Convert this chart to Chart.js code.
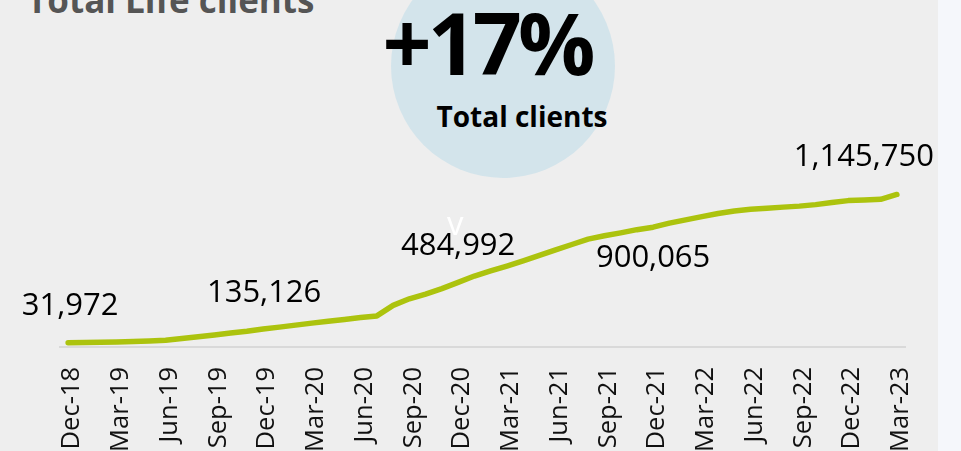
<!DOCTYPE html>
<html lang="en">
<head>
  <meta charset="UTF-8"/>
  <title>Total Life clients</title>
  <script src="https://cdn.jsdelivr.net/npm/chart.js"></script>
  <style>
    html, body { margin: 0; padding: 0; }
    body {
      width: 961px;
      height: 451px;
      overflow: hidden;
      position: relative;
      background: #eeeeee;
      font-family: "Open Sans", sans-serif;
    }
    .strip {
      position: absolute;
      left: 938px; top: 0;
      width: 23px; height: 451px;
      background: #f5f7fb;
    }
    .title {
      position: absolute;
      left: 27px; top: -24px;
      font-size: 35px;
      font-weight: bold;
      color: #555;
      white-space: nowrap;
    }
    .bubble {
      position: absolute;
      left: 391px; top: -46px;
      width: 224px; height: 224px;
      border-radius: 50%;
      background: #d3e4eb;
    }
    .big {
      position: absolute;
      left: 287px; top: -17px;
      width: 400px;
      text-align: center;
      font-size: 86px;
      font-weight: bold;
      letter-spacing: -4px;
      color: #000;
    }
    .sub {
      position: absolute;
      left: 322px; top: 97px;
      width: 400px;
      text-align: center;
      font-size: 28px;
      font-weight: bold;
      color: #000;
    }
    .mark {
      position: absolute;
      left: 447px; top: 200px;
      font-size: 33px;
      color: #fff;
    }
    .chart-box {
      position: absolute;
      left: 0; top: 0;
      width: 961px; height: 451px;
    }
  </style>
</head>
<body>
  <div class="strip"></div>
  <div class="title">Total Life clients</div>
  <div class="bubble"></div>
  <div class="big">+17%</div>
  <div class="sub">Total clients</div>
  <div class="chart-box"><canvas id="chart"></canvas></div>
  <div class="mark">v</div>

  <script>
    const months = [
      "Dec-18",
      "Jan-19", "Feb-19", "Mar-19", "Apr-19", "May-19", "Jun-19",
      "Jul-19", "Aug-19", "Sep-19", "Oct-19", "Nov-19", "Dec-19",
      "Jan-20", "Feb-20", "Mar-20", "Apr-20", "May-20", "Jun-20",
      "Jul-20", "Aug-20", "Sep-20", "Oct-20", "Nov-20", "Dec-20",
      "Jan-21", "Feb-21", "Mar-21", "Apr-21", "May-21", "Jun-21",
      "Jul-21", "Aug-21", "Sep-21", "Oct-21", "Nov-21", "Dec-21",
      "Jan-22", "Feb-22", "Mar-22", "Apr-22", "May-22", "Jun-22",
      "Jul-22", "Aug-22", "Sep-22", "Oct-22", "Nov-22", "Dec-22",
      "Jan-23", "Feb-23", "Mar-23"
    ];

    const clients = [
      31972, 33500, 35700, 38000, 41000, 44800, 50800, 63600, 77100, 90700, 105000, 118500,
      135126, 149300, 164400, 179400, 193700, 207300, 220800, 233600, 312600, 362300, 397600, 439000,
      484992, 533100, 571400, 608300, 647400, 688100, 729400, 770000, 810700, 835500, 857400, 881400,
      900065, 930300, 955200, 979200, 1003300, 1021400, 1034900, 1041700, 1050700, 1058200, 1069500, 1085300,
      1099600, 1104100, 1109400, 1145750
    ];

    // points that carry a value label
    const labelIdx = [0, 12, 24, 36, 51];

    const pointLabels = {
      id: "pointLabels",
      afterDatasetsDraw(chart) {
        const ctx = chart.ctx;
        const pts = chart.getDatasetMeta(0).data;
        // label offset from its point: [dx, dy]
        const shift = { 0: [2, -28], 12: [1, -27], 24: [0, -27], 36: [0, 40], 51: [-33, -28] };
        ctx.save();
        ctx.font = '31px "Open Sans"';
        ctx.fillStyle = "#000";
        ctx.textAlign = "center";
        ctx.textBaseline = "alphabetic";
        labelIdx.forEach(i => {
          const p = pts[i];
          const [dx, dy] = shift[i];
          ctx.fillText(clients[i].toLocaleString("en-US"), p.x + dx, p.y + dy);
        });
        ctx.restore();
      }
    };

    new Chart(document.getElementById("chart"), {
      type: "line",
      data: {
        labels: months,
        datasets: [{
          data: clients,
          borderColor: "#acc30e",
          borderWidth: 5.5,
          borderCapStyle: "round",
          borderJoinStyle: "round",
          pointRadius: 0,
          tension: 0,
          fill: false
        }]
      },
      options: {
        responsive: true,
        maintainAspectRatio: false,
        animation: false,
        layout: { padding: { left: 60, right: 56, top: 134, bottom: 0 } },
        plugins: {
          legend: { display: false },
          tooltip: { enabled: false }
        },
        scales: {
          x: {
            offset: true,
            grid: { display: false, drawTicks: false },
            border: { display: true, color: "#d9d9d9", width: 2 },
            ticks: {
              autoSkip: false,
              minRotation: 90,
              maxRotation: 90,
              padding: 20,
              labelOffset: 4,
              color: "#111",
              font: { family: "Open Sans", size: 25.5 },
              callback: (v, i) => (i % 3 === 0 ? months[i] : "")
            },
            afterFit: s => { s.height = 104; }
          },
          y: { display: false, min: 0, max: 1600000 }
        }
      },
      plugins: [pointLabels]
    });
  </script>
</body>
</html>
